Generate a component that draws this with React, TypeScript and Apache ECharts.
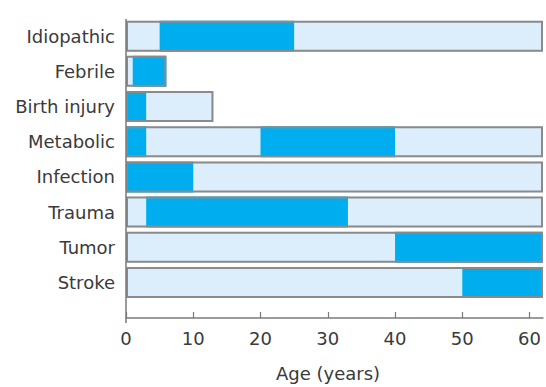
import React, { useEffect, useRef } from "react";
import * as echarts from "echarts";

const categories = ["Idiopathic", "Febrile", "Birth injury", "Metabolic", "Infection", "Trauma", "Tumor", "Stroke"];
// total age range of each cause (light bar)
const rangeEnd = [62, 6, 13, 62, 62, 62, 62, 62];
// first peak segment (dark)
const peak1Start = [5, 1, 0, 0, 0, 3, 40, 50];
const peak1End = [25, 6, 3, 3, 10, 33, 62, 62];
// second peak segment (dark), only Metabolic has one
const peak2Start = [0, 0, 0, 20, 0, 0, 0, 0];
const peak2End = [0, 0, 0, 40, 0, 0, 0, 0];
const xTicks = [0, 10, 20, 30, 40, 50, 60];

const DARK = "#00AEEF";
const LIGHT = "#DCEEFC";
const BORDER = "#8a8a8a";
const TEXT = "#3a3a3a";
const FONT = "'DejaVu Sans', Verdana, sans-serif";

export default function App() {
  const ref = useRef<HTMLDivElement>(null);
  useEffect(() => {
    if (!ref.current) return;
    const chart = echarts.init(ref.current, null, { renderer: "svg" });
    const offset = peak1Start;
    const d1 = peak1End.map((v, i) => v - peak1Start[i]);
    const gap = peak2Start.map((v, i) => (peak2End[i] > 0 ? v - peak1End[i] : 0));
    const d2 = peak2End.map((v, i) => v - peak2Start[i]);
    const bw = 31;
    chart.setOption({
      animation: false,
      textStyle: { fontFamily: FONT },
      grid: { left: 126, right: 3, top: 18.6, bottom: 82, containLabel: false },
      xAxis: {
        type: "value",
        min: 0,
        max: 62,
        interval: 10,
        offset: 18,
        axisLine: { show: true, lineStyle: { color: "#7a7a7a", width: 1.5 } },
        axisTick: { show: true, inside: true, length: 6, lineStyle: { color: "#7a7a7a", width: 1.2 } },
        splitLine: { show: false },
        axisLabel: {
          fontSize: 18,
          color: TEXT,
          margin: 11,
          fontFamily: FONT,
          formatter: (v: number) => (xTicks.includes(v) ? String(v) : ""),
          showMaxLabel: false,
        },
        name: "Age (years)",
        nameLocation: "middle",
        nameGap: 46,
        nameTextStyle: { fontSize: 18, color: TEXT, fontFamily: FONT, padding: [0, 13, 0, 0] },
      },
      yAxis: {
        type: "category",
        data: categories,
        inverse: true,
        axisLine: { show: false },
        axisTick: { show: false },
        axisLabel: { fontSize: 18, color: TEXT, margin: 11, fontFamily: FONT },
      },
      graphic: [
        {
          type: "line",
          shape: { x1: 126, y1: 19, x2: 126, y2: 323 },
          style: { stroke: "#7a7a7a", lineWidth: 1.5 },
          z: 10,
        },
      ],
      series: [
        {
          name: "range",
          type: "bar",
          data: rangeEnd,
          barWidth: bw,
          stack: "bg",
          itemStyle: { color: LIGHT },
          z: 1,
        },
        {
          name: "offset",
          type: "bar",
          data: offset,
          barWidth: bw,
          stack: "seg",
          itemStyle: { color: "transparent" },
          z: 2,
        },
        {
          name: "peak1",
          type: "bar",
          data: d1,
          barWidth: bw,
          stack: "seg",
          itemStyle: { color: DARK },
          z: 2,
        },
        {
          name: "gap",
          type: "bar",
          data: gap,
          barWidth: bw,
          stack: "seg",
          itemStyle: { color: "transparent" },
          z: 2,
        },
        {
          name: "peak2",
          type: "bar",
          data: d2,
          barWidth: bw,
          stack: "seg",
          itemStyle: { color: DARK },
          z: 2,
        },
        {
          name: "outline",
          type: "bar",
          data: rangeEnd,
          barWidth: bw,
          barGap: "-100%",
          stack: "ol",
          itemStyle: { color: "transparent", borderColor: BORDER, borderWidth: 2 },
          z: 3,
        },
      ],
    });
    return () => chart.dispose();
  }, []);
  return (
    <div
      ref={ref}
      style={{ position: "fixed", left: 0, top: 0, width: 546, height: 387, background: "#fff" }}
    />
  );
}
